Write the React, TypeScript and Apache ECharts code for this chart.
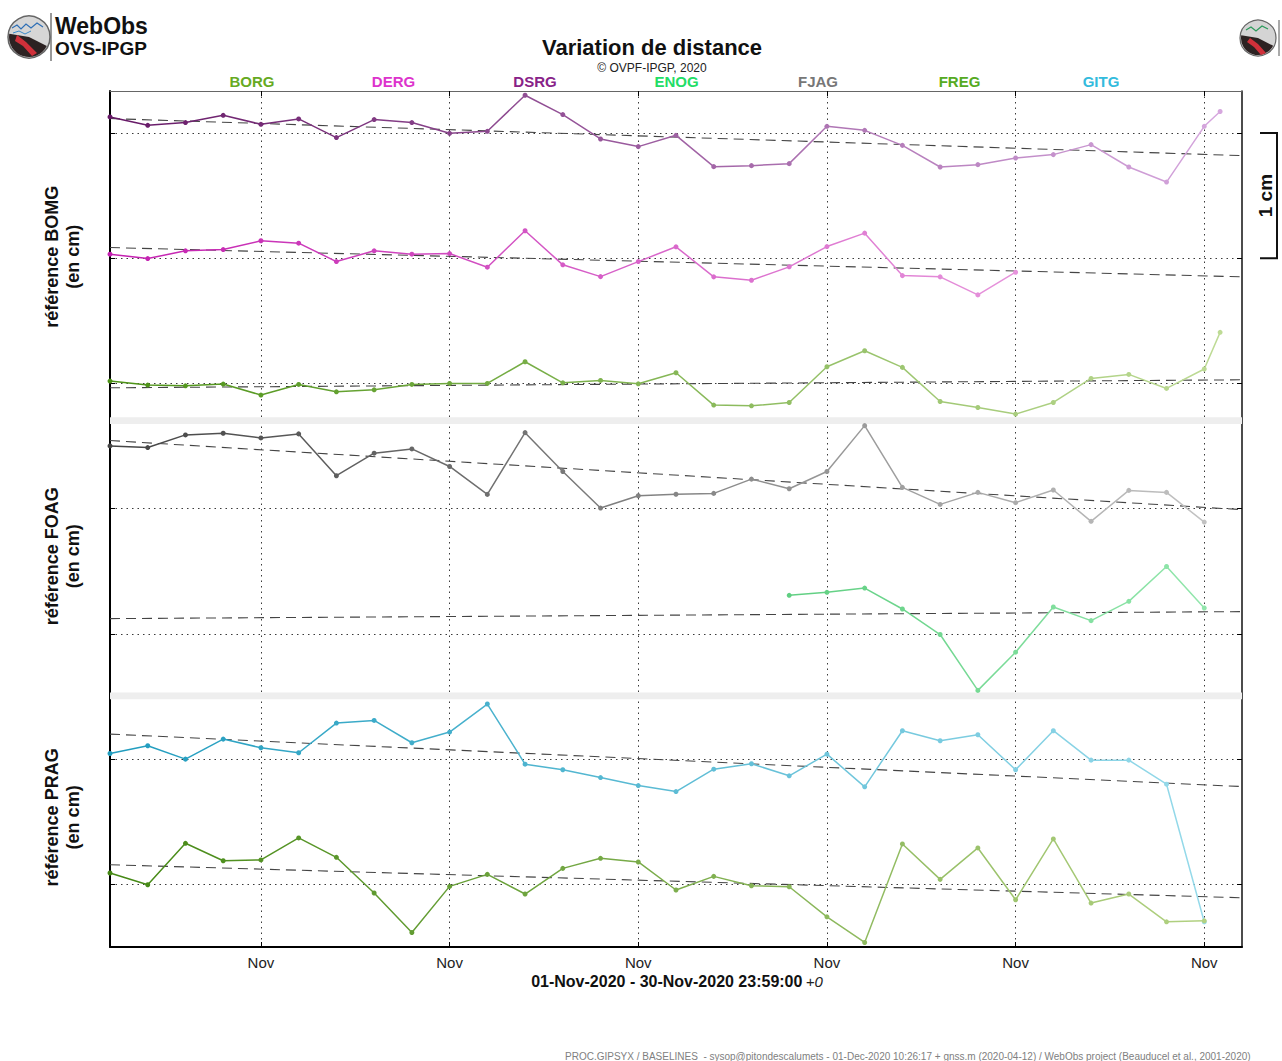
import { useEffect, useRef } from 'react';
import * as echarts from 'echarts';

const FONT = "'Liberation Sans', Arial, Helvetica, sans-serif";

// ---------- labels ----------
const stationNames = ['BORG', 'DERG', 'DSRG', 'ENOG', 'FJAG', 'FREG', 'GITG'];
const referenceNames = ['BOMG', 'FOAG', 'PRAG'];
const xTickDays = [4, 9, 14, 19, 24, 29];
const xTickLabel = 'Nov';
const baseLevels = [0.5, 1.5, 2.5, 3.5, 4.5, 5.5, 6.5];
const panelSeparators = [2.006, 4.203];
const yMax = 6.835;
const dateRange = '01-Nov-2020 - 30-Nov-2020 23:59:00';
const dateZone = '+0';

// ---------- data (deviations in cm, one value per day of Nov 2020, index 0 = 1 Nov) ----------
const days = [0, 1, 2, 3, 4, 5, 6, 7, 8, 9, 10, 11, 12, 13, 14, 15, 16, 17, 18, 19, 20, 21, 22, 23, 24, 25, 26, 27, 28, 29];
const lastDayPartial = 29.42;

const dsrg = [0.128, 0.061, 0.083, 0.141, 0.069, 0.112, -0.037, 0.107, 0.083, -0.003, 0.013, 0.301, 0.147, -0.048, -0.109, -0.019, -0.269, -0.261, -0.245, 0.053, 0.021, -0.099, -0.272, -0.253, -0.2, -0.173, -0.093, -0.272, -0.392, 0.053];
const dsrgPartial = 0.171;
const derg = [0.032, -0.003, 0.059, 0.069, 0.139, 0.12, -0.027, 0.059, 0.032, 0.037, -0.072, 0.219, -0.053, -0.147, -0.027, 0.091, -0.149, -0.176, -0.069, 0.093, 0.2, -0.139, -0.149, -0.293, -0.112];
const borg = [0.019, -0.013, -0.019, -0.005, -0.093, -0.008, -0.067, -0.051, -0.008, 0, 0, 0.173, 0.005, 0.024, -0.003, 0.085, -0.173, -0.179, -0.152, 0.133, 0.261, 0.128, -0.144, -0.192, -0.245, -0.152, 0.04, 0.072, -0.04, 0.115];
const borgPartial = 0.408;
const fjag = [0.501, 0.488, 0.589, 0.602, 0.565, 0.597, 0.263, 0.443, 0.477, 0.337, 0.114, 0.607, 0.297, 0.005, 0.103, 0.115, 0.122, 0.236, 0.159, 0.297, 0.663, 0.17, 0.034, 0.13, 0.048, 0.149, -0.101, 0.146, 0.13, -0.107];
const enogDays = [18, 19, 20, 21, 22, 23, 24, 25, 26, 27, 28, 29];
const enog = [0.308, 0.332, 0.366, 0.199, -0.005, -0.451, -0.146, 0.215, 0.106, 0.26, 0.538, 0.207];
const gitg = [0.045, 0.107, 0, 0.16, 0.091, 0.051, 0.288, 0.309, 0.131, 0.216, 0.44, -0.04, -0.085, -0.147, -0.211, -0.259, -0.08, -0.037, -0.133, 0.04, -0.221, 0.227, 0.147, 0.195, -0.085, 0.227, -0.008, -0.008, -0.2, -1.3];
const freg = [0.091, -0.003, 0.328, 0.189, 0.195, 0.371, 0.216, -0.069, -0.384, -0.016, 0.08, -0.077, 0.128, 0.208, 0.179, -0.045, 0.064, -0.011, -0.019, -0.259, -0.464, 0.323, 0.04, 0.291, -0.123, 0.363, -0.149, -0.077, -0.299, -0.291];

// linear trends: value at start (1 Nov) and end (1 Dec)
const trendDsrg = [0.115, -0.181];
const trendDerg = [0.085, -0.149];
const trendBorg = [-0.035, 0.029];
const trendFjag = [0.544, -0.008];
const trendEnog = [0.122, 0.178];
const trendGitg = [0.2, -0.219];
const trendFreg = [0.157, -0.107];

const footer = 'PROC.GIPSYX / BASELINES  - sysop@pitondescalumets - 01-Dec-2020 10:26:17 + gnss.m (2020-04-12) / WebObs project (Beauducel et al., 2001-2020)';

// ---------- helpers ----------
function hexToRgb(h: string) {
  const n = parseInt(h.slice(1), 16);
  return [(n >> 16) & 255, (n >> 8) & 255, n & 255];
}
function mix(a: string, b: string, t: number) {
  const A = hexToRgb(a);
  const B = hexToRgb(b);
  return 'rgb(' + A.map((v, i) => Math.round(v + (B[i] - v) * t)).join(',') + ')';
}

type LineDef = {
  name: string; level: number; xs: number[]; ys: number[]; trend: number[];
  c0: string; c1: string;
};

const lineDefs: LineDef[] = [
  { name: 'DSRG', level: 6.5, xs: [...days, lastDayPartial], ys: [...dsrg, dsrgPartial], trend: trendDsrg, c0: '#661866', c1: '#d8aae0' },
  { name: 'DERG', level: 5.5, xs: days.slice(0, derg.length), ys: derg, trend: trendDerg, c0: '#c420b0', c1: '#eeb0e6' },
  { name: 'BORG', level: 4.5, xs: [...days, lastDayPartial], ys: [...borg, borgPartial], trend: trendBorg, c0: '#4c9216', c1: '#c0dc98' },
  { name: 'FJAG', level: 3.5, xs: days, ys: fjag, trend: trendFjag, c0: '#444444', c1: '#c6c6c6' },
  { name: 'ENOG', level: 2.5, xs: enogDays, ys: enog, trend: trendEnog, c0: '#10aa3c', c1: '#96e8b0' },
  { name: 'GITG', level: 1.5, xs: days, ys: gitg, trend: trendGitg, c0: '#209cbe', c1: '#9adcec' },
  { name: 'FREG', level: 0.5, xs: days, ys: freg, trend: trendFreg, c0: '#448814', c1: '#b6d486' },
];

const legendColors: Record<string, string> = {
  BORG: '#66aa22', DERG: '#dd33cc', DSRG: '#882288', ENOG: '#22dd66', FJAG: '#777777', FREG: '#55aa22', GITG: '#33bbdd',
};

function buildSeries() {
  const series: any[] = [];
  lineDefs.forEach((d, k) => {
    series.push({
      type: 'line',
      name: d.name + ' trend',
      silent: true,
      symbol: 'none',
      z: 2,
      data: [[0, d.level + d.trend[0]], [30, d.level + d.trend[1]]],
      lineStyle: { color: '#444444', width: 1.1, type: [10, 6] },
      markArea: k === 0 ? {
        silent: true,
        itemStyle: { color: '#eeeeee' },
        data: panelSeparators.map((s) => [{ yAxis: s - 0.027 }, { yAxis: s + 0.027 }]),
      } : undefined,
    });
  });
  lineDefs.forEach((d) => {
    const x0 = Math.min(...d.xs) / 30;
    const x1 = Math.max(...d.xs) / 30;
    const cs = mix(d.c0, d.c1, x0);
    const ce = mix(d.c0, d.c1, x1);
    series.push({
      type: 'line',
      name: d.name,
      silent: true,
      z: 3,
      symbol: 'circle',
      symbolSize: 5,
      showSymbol: true,
      showAllSymbol: true,
      data: d.xs.map((x, i) => ({
        value: [x, d.level + d.ys[i]],
        itemStyle: { color: mix(d.c0, d.c1, x / 30) },
      })),
      lineStyle: {
        width: 1.5,
        color: new echarts.graphic.LinearGradient(0, 0, 1, 0, [
          { offset: 0, color: cs },
          { offset: 1, color: ce },
        ]),
      },
    });
  });
  return series;
}

function staticGraphics(scaleTop: number, scaleBot: number, panelCenters: number[]) {
  const els: any[] = [];
  // left logo
  els.push({ type: 'circle', shape: { cx: 29, cy: 37, r: 21 }, style: { fill: '#d6d6d6', stroke: '#666', lineWidth: 1.5 } });
  els.push({ type: 'sector', shape: { cx: 29, cy: 37, r: 20, r0: 0, startAngle: 0.15 * Math.PI, endAngle: 1.05 * Math.PI }, style: { fill: '#2c2222' } });
  els.push({ type: 'polygon', shape: { points: [[17, 35], [26, 42], [37, 53], [32, 56], [23, 46], [15, 41]] }, style: { fill: '#d0303a' } });
  els.push({ type: 'polyline', shape: { points: [[12, 28], [17, 25], [21, 29], [26, 24], [31, 28], [37, 23], [43, 27]] }, style: { stroke: '#2e6fb6', lineWidth: 1.2, fill: null } });
  els.push({ type: 'polyline', shape: { points: [[13, 33], [19, 31], [25, 34], [31, 31]] }, style: { stroke: '#3a8ac8', lineWidth: 1, fill: null } });
  els.push({ type: 'line', shape: { x1: 51, y1: 13, x2: 51, y2: 61 }, style: { stroke: '#555', lineWidth: 1.2 } });
  els.push({ type: 'text', x: 55, y: 26, style: { text: 'WebObs', font: `bold 23px ${FONT}`, fill: '#111', textAlign: 'left', textVerticalAlign: 'middle' } });
  els.push({ type: 'text', x: 55, y: 48, style: { text: 'OVS-IPGP', font: `bold 19px ${FONT}`, fill: '#111', textAlign: 'left', textVerticalAlign: 'middle' } });
  // right logo
  els.push({ type: 'circle', shape: { cx: 1258, cy: 38, r: 18 }, style: { fill: '#d4d4d4', stroke: '#666', lineWidth: 1.2 } });
  els.push({ type: 'sector', shape: { cx: 1258, cy: 38, r: 17, r0: 0, startAngle: 0.15 * Math.PI, endAngle: 1.05 * Math.PI }, style: { fill: '#2c2222' } });
  els.push({ type: 'polygon', shape: { points: [[1250, 38], [1258, 44], [1266, 53], [1261, 55], [1254, 47], [1247, 42]] }, style: { fill: '#d0303a' } });
  els.push({ type: 'polyline', shape: { points: [[1246, 30], [1251, 27], [1256, 31], [1262, 26], [1268, 29]] }, style: { stroke: '#2a9a5a', lineWidth: 1.2, fill: null } });
  els.push({ type: 'line', shape: { x1: 1279, y1: 20, x2: 1279, y2: 56 }, style: { stroke: '#555', lineWidth: 1 } });
  // title
  els.push({ type: 'text', x: 652, y: 47, style: { text: 'Variation de distance', font: `bold 22px ${FONT}`, fill: '#111', textAlign: 'center', textVerticalAlign: 'middle' } });
  els.push({ type: 'text', x: 652, y: 68, style: { text: '\u00a9 OVPF-IPGP, 2020', font: `12px ${FONT}`, fill: '#222', textAlign: 'center', textVerticalAlign: 'middle' } });
  // station legend
  stationNames.forEach((n, i) => {
    els.push({ type: 'text', x: 252 + i * 141.5, y: 81, style: { text: n, font: `bold 15px ${FONT}`, fill: legendColors[n], textAlign: 'center', textVerticalAlign: 'middle' } });
  });
  // y labels
  referenceNames.forEach((r, i) => {
    els.push({
      type: 'text', x: 62, y: panelCenters[i], rotation: Math.PI / 2,
      style: { text: 'référence ' + r + '\n(en cm)', font: `bold 18px ${FONT}`, lineHeight: 21, fill: '#111', textAlign: 'center', textVerticalAlign: 'middle' },
    });
  });
  // scale bar
  els.push({ type: 'polyline', shape: { points: [[1260, scaleTop], [1277, scaleTop], [1277, scaleBot], [1260, scaleBot]] }, style: { stroke: '#111', lineWidth: 2, fill: null } });
  els.push({ type: 'text', x: 1265, y: (scaleTop + scaleBot) / 2, rotation: Math.PI / 2, style: { text: '1 cm', font: `bold 19px ${FONT}`, fill: '#111', textAlign: 'center', textVerticalAlign: 'middle' } });
  // date range
  els.push({
    type: 'text', x: 677, y: 981,
    style: {
      text: `{b|${dateRange}} {i|${dateZone}}`,
      textAlign: 'center', textVerticalAlign: 'middle',
      rich: {
        b: { fontFamily: FONT, fontWeight: 'bold', fontSize: 16, fill: '#111' },
        i: { fontFamily: FONT, fontStyle: 'italic', fontSize: 15, fill: '#222' },
      },
    },
  });
  // footer
  els.push({ type: 'text', x: 565, y: 1056, style: { text: footer, font: `10px ${FONT}`, fill: '#808080', textAlign: 'left', textVerticalAlign: 'middle' } });
  return els;
}

export default function App() {
  const ref = useRef<HTMLDivElement>(null);
  useEffect(() => {
    if (!ref.current) return;
    const chart = echarts.init(ref.current, undefined, { renderer: 'svg' });
    const dotted = { type: [1.5, 4], color: '#3a3a3a', width: 1 };
    const option: any = {
      animation: false,
      backgroundColor: '#ffffff',
      grid: { left: 110, right: 40, top: 91, bottom: 114, show: false },
      xAxis: [
        {
          type: 'value', min: 0, max: 30, position: 'bottom',
          axisLine: { show: true, onZero: false, lineStyle: { color: '#000', width: 2 } },
          axisTick: { show: true, inside: true, length: 5, customValues: xTickDays, lineStyle: { color: '#000' } },
          axisLabel: { show: true, customValues: xTickDays, formatter: () => xTickLabel, fontFamily: FONT, fontSize: 15, color: '#222', margin: 8 },
          splitLine: { show: true, lineStyle: dotted },
        },
        {
          type: 'value', min: 0, max: 30, position: 'top',
          axisLine: { show: true, onZero: false, lineStyle: { color: '#666', width: 1 } },
          axisTick: { show: true, inside: true, length: 5, customValues: xTickDays, lineStyle: { color: '#000' } },
          axisLabel: { show: false },
          splitLine: { show: false },
        },
      ],
      yAxis: [
        {
          type: 'value', min: 0, max: yMax, position: 'left',
          axisLine: { show: true, onZero: false, lineStyle: { color: '#000', width: 2 } },
          axisTick: { show: true, inside: true, length: 5, customValues: baseLevels, lineStyle: { color: '#000' } },
          axisLabel: { show: false },
          splitLine: { show: true, lineStyle: dotted },
        },
        {
          type: 'value', min: 0, max: yMax, position: 'right',
          axisLine: { show: true, onZero: false, lineStyle: { color: '#111', width: 1.5 } },
          axisTick: { show: true, inside: true, length: 5, customValues: baseLevels, lineStyle: { color: '#000' } },
          axisLabel: { show: false },
          splitLine: { show: false },
        },
      ],
      series: buildSeries(),
    };
    chart.setOption(option);
    const sTop = chart.convertToPixel({ yAxisIndex: 0 }, 6.5) as number;
    const sBot = chart.convertToPixel({ yAxisIndex: 0 }, 5.5) as number;
    const yTop = chart.convertToPixel({ yAxisIndex: 0 }, yMax) as number;
    const yBot = chart.convertToPixel({ yAxisIndex: 0 }, 0) as number;
    const s1 = chart.convertToPixel({ yAxisIndex: 0 }, panelSeparators[1]) as number;
    const s0 = chart.convertToPixel({ yAxisIndex: 0 }, panelSeparators[0]) as number;
    const centers = [(yTop + s1) / 2 + 1, (s1 + s0) / 2 - 2, (s0 + yBot) / 2 - 4];
    chart.setOption({ graphic: { elements: staticGraphics(sTop, sBot, centers) } });
    return () => chart.dispose();
  }, []);
  return <div ref={ref} style={{ position: 'fixed', left: 0, top: 0, width: 1282, height: 1061, background: '#fff' }} />;
}
